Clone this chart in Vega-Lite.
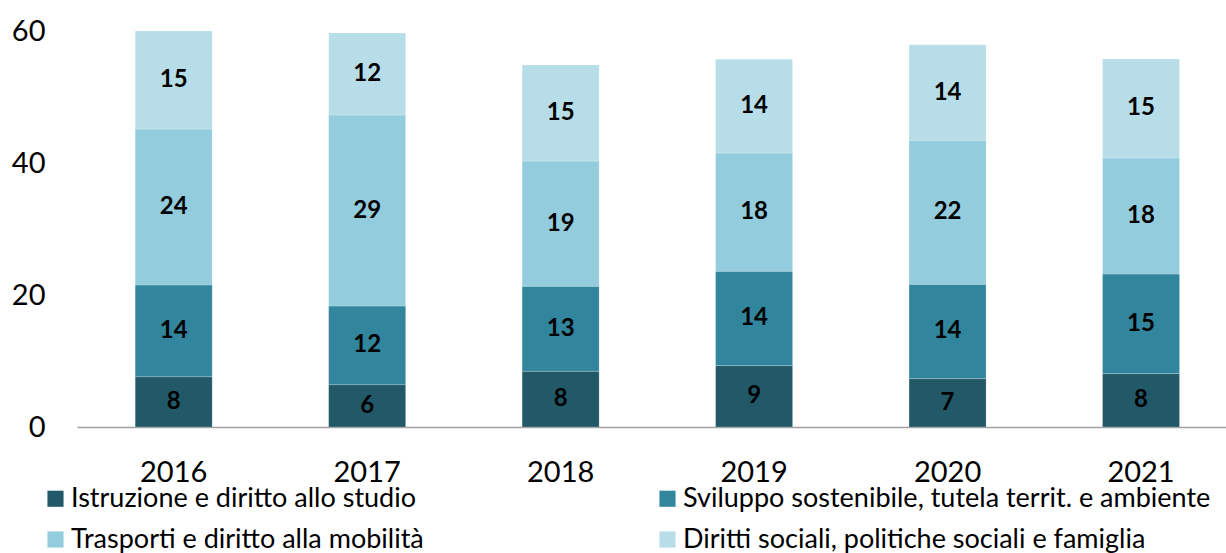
{
  "$schema": "https://vega.github.io/schema/vega-lite/v6.json",
  "width": 1149,
  "height": 396,
  "autosize": {"type": "none"},
  "padding": {"left": 77, "top": 31, "right": 0, "bottom": 126},
  "background": "white",
  "config": {
    "view": {"stroke": null},
    "font": "Lato"
  },
  "data": {
    "values": [
      {"year": "2016", "cat": "Istruzione e diritto allo studio", "k": 1, "v": 7.62},
      {"year": "2016", "cat": "Sviluppo sostenibile, tutela territ. e ambiente", "k": 2, "v": 13.9},
      {"year": "2016", "cat": "Trasporti e diritto alla mobilità", "k": 3, "v": 23.64},
      {"year": "2016", "cat": "Diritti sociali, politiche sociali e famiglia", "k": 4, "v": 14.84},
      {"year": "2017", "cat": "Istruzione e diritto allo studio", "k": 1, "v": 6.42},
      {"year": "2017", "cat": "Sviluppo sostenibile, tutela territ. e ambiente", "k": 2, "v": 11.9},
      {"year": "2017", "cat": "Trasporti e diritto alla mobilità", "k": 3, "v": 28.94},
      {"year": "2017", "cat": "Diritti sociali, politiche sociali e famiglia", "k": 4, "v": 12.45},
      {"year": "2018", "cat": "Istruzione e diritto allo studio", "k": 1, "v": 8.44},
      {"year": "2018", "cat": "Sviluppo sostenibile, tutela territ. e ambiente", "k": 2, "v": 12.88},
      {"year": "2018", "cat": "Trasporti e diritto alla mobilità", "k": 3, "v": 18.98},
      {"year": "2018", "cat": "Diritti sociali, politiche sociali e famiglia", "k": 4, "v": 14.55},
      {"year": "2019", "cat": "Istruzione e diritto allo studio", "k": 1, "v": 9.3},
      {"year": "2019", "cat": "Sviluppo sostenibile, tutela territ. e ambiente", "k": 2, "v": 14.29},
      {"year": "2019", "cat": "Trasporti e diritto alla mobilità", "k": 3, "v": 17.93},
      {"year": "2019", "cat": "Diritti sociali, politiche sociali e famiglia", "k": 4, "v": 14.19},
      {"year": "2020", "cat": "Istruzione e diritto allo studio", "k": 1, "v": 7.33},
      {"year": "2020", "cat": "Sviluppo sostenibile, tutela territ. e ambiente", "k": 2, "v": 14.29},
      {"year": "2020", "cat": "Trasporti e diritto alla mobilità", "k": 3, "v": 21.82},
      {"year": "2020", "cat": "Diritti sociali, politiche sociali e famiglia", "k": 4, "v": 14.46},
      {"year": "2021", "cat": "Istruzione e diritto allo studio", "k": 1, "v": 8.09},
      {"year": "2021", "cat": "Sviluppo sostenibile, tutela territ. e ambiente", "k": 2, "v": 15.09},
      {"year": "2021", "cat": "Trasporti e diritto alla mobilità", "k": 3, "v": 17.58},
      {"year": "2021", "cat": "Diritti sociali, politiche sociali e famiglia", "k": 4, "v": 15.0}
    ]
  },
  "encoding": {
    "x": {
      "field": "year",
      "type": "nominal",
      "scale": {"paddingInner": 0.602, "paddingOuter": 0.2705, "align": 0.556},
      "axis": {
        "title": null,
        "labelAngle": 0,
        "labelFont": "Lato",
        "labelFontSize": 29,
        "labelColor": "#000000",
        "labelPadding": 31,
        "ticks": false,
        "domainColor": "#a0a0a0",
        "domainWidth": 1.5
      }
    },
    "y": {
      "field": "v",
      "type": "quantitative",
      "stack": "zero",
      "scale": {"domain": [0, 60], "nice": false},
      "axis": {
        "title": null,
        "values": [0, 20, 40, 60],
        "grid": false,
        "domain": false,
        "ticks": false,
        "labelFont": "Lato",
        "labelFontSize": 29,
        "labelColor": "#000000",
        "labelPadding": 32
      }
    },
    "order": {"field": "k", "type": "quantitative"}
  },
  "layer": [
    {
      "mark": {"type": "bar", "stroke": "white", "strokeWidth": 0.5, "strokeOpacity": 0.4},
      "encoding": {
        "color": {
          "field": "cat",
          "type": "nominal",
          "sort": ["Istruzione e diritto allo studio", "Sviluppo sostenibile, tutela territ. e ambiente", "Trasporti e diritto alla mobilità", "Diritti sociali, politiche sociali e famiglia"],
          "scale": {
            "domain": ["Istruzione e diritto allo studio", "Sviluppo sostenibile, tutela territ. e ambiente", "Trasporti e diritto alla mobilità", "Diritti sociali, politiche sociali e famiglia"],
            "range": ["#215968", "#31859c", "#93cddd", "#b7dee8"]
          },
          "legend": {
            "title": null,
            "orient": "none",
            "legendX": -35,
            "legendY": 454,
            "direction": "horizontal",
            "columns": 2,
            "columnPadding": 230,
            "rowPadding": 13,
            "symbolType": "square",
            "symbolSize": 260,
            "symbolStrokeWidth": 0,
            "labelFont": "Lato",
            "labelFontSize": 27,
            "labelColor": "#000000",
            "labelOffset": 2,
            "labelLimit": 800
          }
        }
      }
    },
    {
      "mark": {"type": "text", "font": "Lato", "fontSize": 24, "fontWeight": "bold", "color": "#000000"},
      "encoding": {
        "y": {"field": "v", "type": "quantitative", "stack": "zero", "bandPosition": 0.5},
        "detail": {"field": "cat"},
        "text": {"field": "v", "type": "quantitative", "format": ".0f"}
      }
    }
  ]
}
